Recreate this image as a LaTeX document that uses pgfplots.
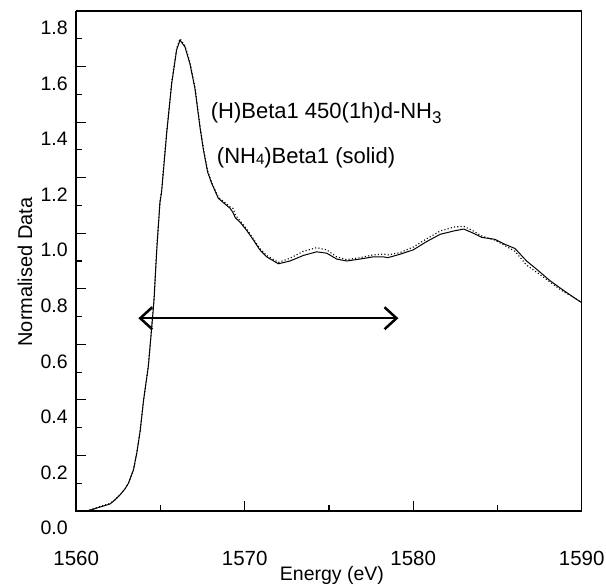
\documentclass[border=0pt]{standalone}
\usepackage{pgfplots}
\pgfplotsset{compat=1.18}
\usepackage{fontspec}
\setmainfont{Liberation Sans}
\usetikzlibrary{arrows.meta}

\pgfplotstableread{
x y
1560.6 0.000
1561.0 0.006
1561.4 0.014
1562.0 0.025
1562.3 0.040
1562.6 0.058
1562.9 0.080
1563.1 0.100
1563.4 0.148
1563.6 0.210
1563.8 0.290
1564.0 0.400
1564.28 0.520
1564.48 0.660
1564.62 0.760
1564.78 0.940
1564.97 1.110
1565.07 1.150
1565.37 1.360
1565.67 1.540
1565.96 1.660
1566.16 1.695
1566.46 1.670
1566.75 1.610
1567.05 1.520
1567.35 1.380
1567.55 1.300
1567.8 1.220
1568.04 1.180
1568.43 1.126
1568.93 1.100
1569.13 1.090
1569.3 1.075
1569.45 1.055
1569.72 1.040
1570.12 1.010
1570.51 0.976
1570.9 0.940
1571.3 0.915
1572.0 0.890
1572.69 0.900
1573.48 0.920
1574.27 0.933
1574.87 0.928
1575.46 0.907
1576.05 0.900
1576.84 0.907
1577.63 0.915
1578.23 0.915
1578.5 0.912
1579.2 0.924
1580.0 0.940
1580.8 0.970
1581.6 0.996
1582.4 1.008
1583.0 1.015
1583.57 1.000
1584.07 0.985
1584.85 0.978
1585.45 0.960
1586.04 0.945
1586.73 0.900
1587.43 0.865
1588.1 0.830
1588.9 0.795
1589.5 0.770
1590.0 0.750
}\solid

\pgfplotstableread{
x y
1560.6 0.000
1561.0 0.008
1561.4 0.016
1562.0 0.027
1562.3 0.041
1562.6 0.058
1562.9 0.080
1563.1 0.100
1563.4 0.150
1563.6 0.212
1563.8 0.292
1564.0 0.400
1564.28 0.522
1564.48 0.662
1564.62 0.765
1564.78 0.945
1564.97 1.115
1565.07 1.155
1565.37 1.365
1565.67 1.545
1565.96 1.665
1566.16 1.700
1566.46 1.675
1566.75 1.615
1567.05 1.525
1567.35 1.385
1567.55 1.305
1567.8 1.225
1568.04 1.182
1568.43 1.130
1568.93 1.105
1569.13 1.095
1569.3 1.090
1569.45 1.065
1569.72 1.045
1570.12 1.015
1570.51 0.980
1570.9 0.945
1571.3 0.920
1572.0 0.895
1572.69 0.910
1573.48 0.935
1574.27 0.948
1574.87 0.940
1575.46 0.915
1576.05 0.905
1576.84 0.912
1577.63 0.922
1578.23 0.925
1578.5 0.922
1579.2 0.930
1580.0 0.950
1580.8 0.980
1581.6 1.008
1582.4 1.022
1583.0 1.025
1583.57 1.008
1584.07 0.990
1584.85 0.975
1585.45 0.955
1586.04 0.935
1586.73 0.885
1587.43 0.855
1588.1 0.825
1588.9 0.790
1589.5 0.770
1590.0 0.750
}\dotted

\begin{document}
\begin{tikzpicture}
\useasboundingbox (-76.2pt,-76pt) rectangle (529.8pt,511pt);
\begin{axis}[
  scale only axis, width=505.5pt, height=500pt,
  at={(0,0)}, anchor=south west,
  xmin=1560, xmax=1590, ymin=0, ymax=1.8,
  xtick={1560,1570,1580,1590}, minor xtick={1565,1575,1585},
  ytick={0,0.2,0.4,0.6,0.8,1.0,1.2,1.4,1.6,1.8},
  minor ytick={0.1,0.3,0.5,0.7,0.9,1.1,1.3,1.5,1.7},
  tick align=inside, xtick pos=bottom, ytick pos=left,
  major tick length=10pt, minor tick length=6pt,
  every tick/.style={black, line width=1.2pt},
  axis line style={line width=1.3pt},
  clip=false,
  /pgf/number format/assume math mode=true,
  xticklabel style={font=\fontsize{20.5}{20.5}\selectfont, /pgf/number format/1000 sep={}, yshift=-36.5pt},
  yticklabel style={font=\fontsize{19.5}{19.5}\selectfont, /pgf/number format/fixed, /pgf/number format/fixed zerofill, /pgf/number format/precision=1, yshift=-17pt, xshift=-5pt},
  xlabel={Energy (eV)},
  xlabel style={font=\fontsize{19.5}{19.5}\selectfont, at={(axis description cs:0.506,-0.129)}, anchor=center},
  ylabel={Normalised Data},
  ylabel style={font=\fontsize{20}{20}\selectfont, at={(axis description cs:-0.1013,0.478)}, anchor=center},
]
\draw[line width=2.4pt] (rel axis cs:0,1) -- (rel axis cs:0,0) -- (rel axis cs:1,0);
\addplot[black, line width=1pt] table[x=x,y=y] {\solid};
\addplot[black, line width=1.1pt, dash pattern=on 1.1pt off 2.2pt] table[x=x,y=y] {\dotted};
\node[anchor=base west, inner sep=0pt, font=\fontsize{22}{22}\selectfont] at (axis cs:1567.98,1.4136) {(H)Beta1 450(1h)d-NH\raisebox{-5pt}{\fontsize{17}{17}\selectfont 3}};
\node[anchor=base west, inner sep=0pt, font=\fontsize{22}{22}\selectfont] at (axis cs:1568.34,1.2516) {(NH\raisebox{-1pt}{\fontsize{15}{15}\selectfont 4})Beta1 (solid)};
\draw[line width=2.5pt, {Straight Barb[length=12pt,width=22pt]}-{Straight Barb[length=12pt,width=22pt]}] (axis cs:1563.69,0.694) -- (axis cs:1579.12,0.694);
\end{axis}
\end{tikzpicture}
\end{document}
